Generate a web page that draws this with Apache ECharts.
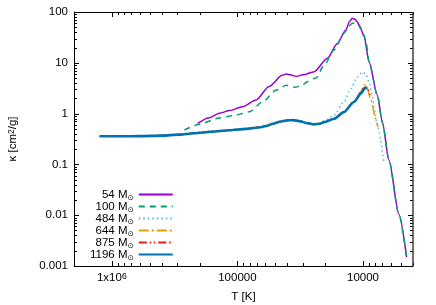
<!DOCTYPE html>
<html><head><meta charset="utf-8">
<script src="https://cdn.jsdelivr.net/npm/echarts@6/dist/echarts.min.js"></script>
<style>html,body{margin:0;padding:0;background:#fff}#c{width:436px;height:305px}</style>
</head><body><div id="c"></div>
<script>
// ---- data (T in K, kappa in cm^2/g) ----
const names = ['54', '100', '484', '644', '875', '1196'];
const colors = ['#9400d3', '#009e73', '#56b4e9', '#e69f00', '#e51e10', '#0072b2'];

const t54 = [2.07e5, 1.7e5, 1.39e5, 1.15e5, 9.1e4, 7.1e4, 5.6e4, 4.4e4, 4.1e4, 3.8e4, 3.4e4, 3.0e4, 2.45e4, 1.92e4, 1.6e4, 1.37e4, 1.28e4, 1.22e4, 1.16e4, 1.11e4, 1.05e4, 9.8e3, 8.96e3, 7.69e3, 7.0e3, 6.22e3, 5.18e3, 4.5e3];
const k54 = [0.64, 0.82, 1.02, 1.15, 1.37, 1.85, 3.4, 5.7, 6.0, 5.8, 5.4, 5.8, 6.7, 12.3, 24, 44, 65, 75, 72, 64, 48, 33, 10.5, 2.3, 0.66, 0.122, 0.0104, 0.0015];

const t100 = [2.64e5, 2.0e5, 1.39e5, 1.02e5, 8.0e4, 6.3e4, 4.9e4, 4.1e4, 3.5e4, 3.1e4, 2.77e4, 2.37e4, 2.04e4, 1.7e4, 1.42e4, 1.3e4, 1.22e4, 1.15e4, 1.08e4, 1.02e4, 9.5e3, 8.96e3, 7.69e3, 7.0e3, 6.22e3, 5.18e3, 4.5e3];
const k100 = [0.475, 0.62, 0.82, 0.94, 1.09, 1.71, 2.9, 3.6, 3.3, 3.5, 4.25, 5.0, 9.0, 17.9, 38, 52, 60, 60, 57, 45, 28, 10.5, 2.3, 0.66, 0.122, 0.0104, 0.0015];

const t484 = [1.25e6, 9e5, 6e5, 4e5, 2.9e5, 2.2e5, 1.6e5, 1.15e5, 8.5e4, 6.5e4, 5.9e4, 5.2e4, 4.6e4, 4.0e4, 3.6e4, 3.2e4, 2.8e4, 2.45e4, 2.2e4, 2.04e4, 1.7e4, 1.42e4, 1.25e4, 1.11e4, 1.01e4, 9.5e3, 8.96e3, 8.44e3, 8.18e3, 7.69e3, 6.81e3];
const k484 = [0.358, 0.358, 0.362, 0.372, 0.395, 0.425, 0.455, 0.485, 0.51, 0.55, 0.58, 0.64, 0.70, 0.745, 0.755, 0.72, 0.66, 0.63, 0.65, 0.72, 0.93, 1.69, 3.09, 5.25, 6.6, 6.1, 4.19, 2.29, 1.35, 0.59, 0.105];

const t644 = [1.25e6, 9e5, 6e5, 4e5, 2.9e5, 2.2e5, 1.6e5, 1.15e5, 8.5e4, 6.5e4, 5.9e4, 5.2e4, 4.6e4, 4.0e4, 3.6e4, 3.2e4, 2.8e4, 2.45e4, 2.2e4, 2.04e4, 1.7e4, 1.42e4, 1.18e4, 1.04e4, 9.8e3, 9.3e3, 8.69e3, 7.93e3, 7.6e3];
const k644 = [0.358, 0.358, 0.36, 0.37, 0.39, 0.415, 0.445, 0.475, 0.505, 0.55, 0.58, 0.64, 0.70, 0.74, 0.75, 0.715, 0.655, 0.62, 0.635, 0.685, 0.80, 1.1, 1.75, 2.7, 3.7, 3.2, 1.96, 0.79, 0.55];

const t875 = [1.25e6, 9e5, 6e5, 4e5, 2.9e5, 2.2e5, 1.6e5, 1.15e5, 8.5e4, 6.5e4, 5.9e4, 5.2e4, 4.6e4, 4.0e4, 3.6e4, 3.2e4, 2.8e4, 2.45e4, 2.2e4, 2.04e4, 1.7e4, 1.42e4, 1.18e4, 1.04e4, 9.7e3, 9.2e3, 8.8e3];
const k875 = [0.358, 0.358, 0.36, 0.369, 0.388, 0.412, 0.442, 0.472, 0.502, 0.545, 0.575, 0.635, 0.695, 0.738, 0.748, 0.712, 0.652, 0.618, 0.632, 0.682, 0.795, 1.08, 1.72, 2.6, 3.5, 3.1, 2.3];

const t1196 = [1.25e6, 9e5, 6e5, 4e5, 2.9e5, 2.2e5, 1.6e5, 1.15e5, 8.5e4, 6.5e4, 5.9e4, 5.2e4, 4.6e4, 4.0e4, 3.6e4, 3.2e4, 2.8e4, 2.45e4, 2.2e4, 2.04e4, 1.7e4, 1.42e4, 1.18e4, 1.04e4, 9.6e3, 9.3e3];
const k1196 = [0.358, 0.358, 0.36, 0.368, 0.385, 0.41, 0.44, 0.47, 0.5, 0.54, 0.57, 0.63, 0.69, 0.735, 0.745, 0.71, 0.65, 0.615, 0.63, 0.68, 0.79, 1.07, 1.69, 2.47, 3.22, 3.1];

// ---- axes / ticks ----
const xTickValues = [1e4, 1e5, 1e6];
const xTickLabels = ['10000', '100000', '1x10{sup|6}'];
const yTickValues = [0.001, 0.01, 0.1, 1, 10, 100];
const yTickLabels = ['0.001', '0.01', '0.1', '1', '10', '100'];
const xMinorTicks = [4e3, 5e3, 6e3, 7e3, 8e3, 9e3, 2e4, 3e4, 4e4, 5e4, 6e4, 7e4, 8e4, 9e4, 2e5, 3e5, 4e5, 5e5, 6e5, 7e5, 8e5, 9e5];
const yMinorTicks = [0.002, 0.003, 0.004, 0.005, 0.006, 0.007, 0.008, 0.009, 0.02, 0.03, 0.04, 0.05, 0.06, 0.07, 0.08, 0.09, 0.2, 0.3, 0.4, 0.5, 0.6, 0.7, 0.8, 0.9, 2, 3, 4, 5, 6, 7, 8, 9, 20, 30, 40, 50, 60, 70, 80, 90];
const xRange = [4000, 2e6];
const yRange = [0.001, 100];

const FONT = '"Liberation Sans", Arial, Helvetica, sans-serif';
const FS = 11.5;
const tData = {'54': t54, '100': t100, '484': t484, '644': t644, '875': t875, '1196': t1196};
const kData = {'54': k54, '100': k100, '484': k484, '644': k644, '875': k875, '1196': k1196};
const dashes = {'54': 'solid', '100': [6, 5], '484': [1.5, 3], '644': [10, 3, 2, 3], '875': [8, 3, 1.5, 2.5, 1.5, 3], '1196': 'solid'};
const widths = {'54': 1.5, '100': 1.5, '484': 1.5, '644': 1.5, '875': 1.5, '1196': 2.6};

function labelFor(v, vals, labs) {
  for (let i = 0; i < vals.length; i++) {
    if (Math.abs(Math.log10(v) - Math.log10(vals[i])) < 1e-6) return labs[i];
  }
  return '';
}

const lineSeries = names.map((n, i) => ({
  name: n, type: 'line', showSymbol: false, symbol: 'none',
  smooth: 0.25, smoothMonotone: 'x',
  data: tData[n].map((t, j) => [t, kData[n][j]]),
  lineStyle: {color: colors[i], width: widths[n], type: dashes[n]},
  itemStyle: {color: colors[i]},
  z: 3 + i, silent: true
}));

function tickSeries(vals, major, isX) {
  return {
    type: 'custom', silent: true, z: 20, clip: false,
    data: vals.map(v => isX ? [v, 1] : [1e5, v]),
    renderItem: function (params, api) {
      const cs = params.coordSys;
      const len = major ? 5 : 3;
      const style = {stroke: '#000', lineWidth: 1};
      if (isX) {
        const p = api.coord([api.value(0), 1]);
        const x = Math.round(p[0]) + 0.5;
        return {type: 'group', children: [
          {type: 'line', shape: {x1: x, y1: cs.y + cs.height, x2: x, y2: cs.y + cs.height - len}, style: style},
          {type: 'line', shape: {x1: x, y1: cs.y, x2: x, y2: cs.y + len}, style: style}
        ]};
      } else {
        const p = api.coord([1e5, api.value(1)]);
        const y = Math.round(p[1]) + 0.5;
        return {type: 'group', children: [
          {type: 'line', shape: {x1: cs.x, y1: y, x2: cs.x + len, y2: y}, style: style},
          {type: 'line', shape: {x1: cs.x + cs.width, y1: y, x2: cs.x + cs.width - len, y2: y}, style: style}
        ]};
      }
    }
  };
}

const borderSeries = {
  type: 'custom', silent: true, z: 21, clip: false,
  data: [[1e5, 1]],
  renderItem: function (params, api) {
    const cs = params.coordSys;
    return {type: 'group', children: [
      {type: 'line', shape: {x1: cs.x, y1: cs.y + 0.5, x2: cs.x + cs.width, y2: cs.y + 0.5}, style: {stroke: '#000', lineWidth: 1}},
      {type: 'line', shape: {x1: cs.x + cs.width, y1: cs.y, x2: cs.x + cs.width, y2: cs.y + cs.height}, style: {stroke: '#333', lineWidth: 1.4}}
    ]};
  }
};

const chart = echarts.init(document.getElementById('c'), null, {renderer: 'canvas'});
chart.setOption({
  animation: false,
  backgroundColor: '#fff',
  textStyle: {fontFamily: FONT},
  grid: {left: 74, right: 23, top: 12, bottom: 39, containLabel: false, outerBoundsMode: 'none'},
  legend: {
    data: names, orient: 'vertical', align: 'right',
    left: 85, top: 181.5, itemWidth: 34, itemHeight: 12, itemGap: -4,
    selectedMode: false,
    itemStyle: {opacity: 0},
    formatter: name => '{n|' + name + ' M}{s|\u2299}',
    textStyle: {
      color: '#000', fontSize: FS, fontFamily: FONT,
      rich: {
        n: {fontSize: FS, lineHeight: 12, color: '#000', fontFamily: FONT},
        s: {fontSize: 7.5, lineHeight: 8, color: '#000', fontFamily: '"DejaVu Sans", sans-serif', padding: [8, 0, 0, 0]}
      }
    }
  },
  xAxis: {
    type: 'log', logBase: 10, inverse: true, min: xRange[0], max: xRange[1],
    axisLine: {show: true, onZero: false, lineStyle: {color: '#000', width: 1}},
    axisTick: {show: false}, minorTick: {show: false}, splitLine: {show: false},
    axisLabel: {
      margin: 6, fontSize: FS, color: '#000', fontFamily: FONT,
      formatter: v => labelFor(v, xTickValues, xTickLabels),
      rich: {sup: {fontSize: 8.5, verticalAlign: 'top', color: '#000', fontFamily: FONT}}
    },
    name: 'T [K]', nameLocation: 'middle', nameGap: 25,
    nameTextStyle: {fontSize: FS, color: '#000', fontFamily: FONT}
  },
  yAxis: {
    type: 'log', logBase: 10, min: yRange[0], max: yRange[1],
    axisLine: {show: true, onZero: false, lineStyle: {color: '#000', width: 1}},
    axisTick: {show: false}, minorTick: {show: false}, splitLine: {show: false},
    axisLabel: {
      margin: 6, fontSize: FS, color: '#000', fontFamily: FONT,
      formatter: v => labelFor(v, yTickValues, yTickLabels)
    },
    name: 'κ [cm{sup|2}/g]', nameLocation: 'middle', nameGap: 55,
    nameTextStyle: {fontSize: FS, color: '#000', fontFamily: FONT,
      rich: {sup: {fontSize: 8.5, verticalAlign: 'top', color: '#000', fontFamily: FONT}}}
  },
  series: lineSeries.concat([
    tickSeries(xTickValues, true, true),
    tickSeries(xMinorTicks, false, true),
    tickSeries(yTickValues, true, false),
    tickSeries(yMinorTicks, false, false),
    borderSeries
  ])
});
</script></body></html>
